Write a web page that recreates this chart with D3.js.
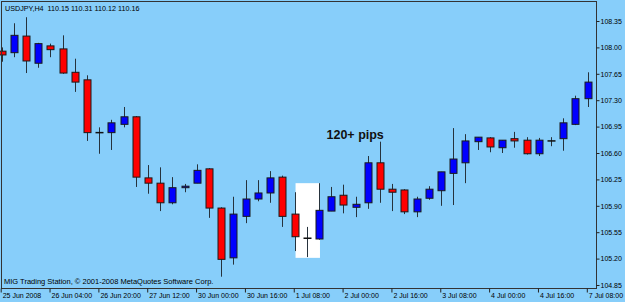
<!DOCTYPE html>
<html>
<head>
<meta charset="utf-8">
<script src="https://cdn.jsdelivr.net/npm/d3@7"></script>
<style>
  body { margin: 0; background: #87cefa; }
  svg { display: block; font-family: "Liberation Sans", Arial, sans-serif; }
</style>
</head>
<body>
<svg id="chart" width="625" height="302"></svg>
<script>
// USDJPY H4 candles (bar 0 = 25 Jun 2008)
const opens = [107.95, 107.93, 108.15, 107.79, 108.02, 107.98, 107.67, 107.57, 106.87, 106.87,
  106.98, 107.08, 106.27, 106.20, 105.94, 106.14, 106.20, 106.39, 105.87, 105.21,
  105.76, 105.99, 106.07, 106.28, 105.79, 105.47, 105.46, 105.83, 106.04, 105.88,
  105.94, 106.47, 106.12, 106.11, 105.82, 106.00, 106.10, 106.33, 106.47, 106.75,
  106.80, 106.67, 106.79, 106.77, 106.59, 106.76, 106.79, 106.98, 107.32];
const highs = [108.00, 108.32, 108.40, 108.06, 108.05, 108.16, 107.85, 107.63, 106.94, 107.04,
  107.21, 107.09, 106.44, 106.41, 106.28, 106.19, 106.45, 106.40, 105.88, 106.02,
  106.24, 106.24, 106.36, 106.30, 106.08, 105.62, 106.20, 106.15, 106.18, 106.02,
  106.56, 106.75, 106.19, 106.12, 106.02, 106.16, 106.35, 106.93, 106.85, 106.81,
  106.81, 106.77, 106.88, 106.81, 106.80, 106.81, 107.06, 107.36, 107.67];
const lows = [107.81, 107.87, 107.66, 107.73, 107.87, 107.65, 107.41, 106.76, 106.59, 106.64,
  106.94, 106.15, 106.06, 105.83, 105.92, 106.08, 106.20, 105.74, 104.96, 105.12,
  105.67, 105.96, 105.94, 105.62, 105.30, 105.22, 105.45, 105.83, 105.80, 105.75,
  105.86, 105.94, 105.83, 105.79, 105.75, 105.98, 105.90, 105.91, 106.20, 106.64,
  106.61, 106.60, 106.67, 106.58, 106.56, 106.69, 106.63, 106.97, 107.21];
const closes = [107.90, 108.16, 107.82, 108.05, 107.97, 107.66, 107.54, 106.87, 106.87, 107.00,
  107.08, 106.28, 106.20, 105.94, 106.14, 106.16, 106.37, 105.87, 105.19, 105.79,
  105.99, 106.07, 106.27, 105.76, 105.49, 105.47, 105.84, 106.02, 105.91, 105.92,
  106.47, 106.12, 106.08, 105.82, 105.99, 106.12, 106.35, 106.52, 106.76, 106.81,
  106.68, 106.77, 106.76, 106.59, 106.77, 106.76, 107.00, 107.32, 107.54];

const yTicks = [108.35, 108.00, 107.65, 107.30, 106.95, 106.60, 106.25, 105.90, 105.55, 105.20, 104.85];
const xTickBars = [0, 4, 8, 12, 16, 20, 24, 28, 32, 36, 40, 44, 48];
const xTickLabels = ["25 Jun 2008", "26 Jun 04:00", "26 Jun 20:00", "27 Jun 12:00", "30 Jun 00:00",
  "30 Jun 16:00", "1 Jul 08:00", "2 Jul 00:00", "2 Jul 16:00", "3 Jul 08:00", "4 Jul 00:00",
  "4 Jul 16:00", "7 Jul 08:00"];

const headerText = "USDJPY,H4  110.15 110.31 110.12 110.16";
const creditText = "MIG Trading Station, \u00a9 2001-2008 MetaQuotes Software Corp.";
const noteText = "120+ pips";
// highlighted box: from bar 24 to bar 26, price range
const boxBars = [24, 26];
const boxPrices = [106.20, 105.21];

const bars = opens.map((o, i) => ({ i: i, o: o, h: highs[i], l: lows[i], c: closes[i] }));

const svg = d3.select("#chart");
const plotRight = 596.5, plotBottom = 288.5;

const x = d3.scaleLinear().domain([0, 48]).range([2.5, 588.6]);
const y = d3.scaleLinear().domain([104.85, 108.35]).range([285, 21]);

// highlight box (behind candles)
svg.append("rect")
  .attr("x", x(boxBars[0]))
  .attr("y", y(boxPrices[0]))
  .attr("width", x(boxBars[1]) - x(boxBars[0]))
  .attr("height", y(boxPrices[1]) - y(boxPrices[0]))
  .attr("fill", "#ffffff");

const plot = svg.append("g");

// wicks
plot.selectAll("line.wick")
  .data(bars)
  .enter()
  .append("line")
  .attr("class", "wick")
  .attr("x1", d => Math.round(x(d.i)) - 0.5)
  .attr("x2", d => Math.round(x(d.i)) - 0.5)
  .attr("y1", d => y(d.h))
  .attr("y2", d => y(d.l))
  .attr("stroke", "#26323c")
  .attr("stroke-width", 1);

// bodies
plot.selectAll("rect.body")
  .data(bars.filter(d => d.o !== d.c))
  .enter()
  .append("rect")
  .attr("class", "body")
  .attr("x", d => Math.round(x(d.i)) - 4)
  .attr("y", d => y(Math.max(d.o, d.c)))
  .attr("width", 7)
  .attr("height", d => Math.max(1, Math.abs(y(d.o) - y(d.c))))
  .attr("fill", d => (d.c < d.o ? "#ff0000" : "#0000ff"))
  .attr("stroke", "#1a1a1a")
  .attr("stroke-width", 1);

// doji bars
plot.selectAll("line.doji")
  .data(bars.filter(d => d.o === d.c))
  .enter()
  .append("line")
  .attr("class", "doji")
  .attr("x1", d => Math.round(x(d.i)) - 4.5)
  .attr("x2", d => Math.round(x(d.i)) + 3.5)
  .attr("y1", d => y(d.o))
  .attr("y2", d => y(d.o))
  .attr("stroke", "#111")
  .attr("stroke-width", 1.5);

// frame
svg.append("rect")
  .attr("x", 1.5)
  .attr("y", 1.5)
  .attr("width", plotRight - 1.5)
  .attr("height", plotBottom - 1.5)
  .attr("fill", "none")
  .attr("stroke", "#333");

// right price axis
const yAxis = svg.append("g")
  .attr("transform", `translate(${plotRight},0)`)
  .call(d3.axisRight(y).tickValues(yTicks).tickFormat(d3.format(".2f")).tickSize(3).tickPadding(1));
yAxis.select(".domain").remove();
yAxis.selectAll("line").attr("stroke", "#222");
yAxis.selectAll("text")
  .attr("font-size", 7)
  .attr("font-family", "Liberation Sans, Arial, sans-serif")
  .attr("fill", "#000");

// bottom time axis (ticks sit just left of the candle centre)
const xAxis = svg.append("g")
  .attr("transform", `translate(-1.8,${plotBottom})`)
  .call(d3.axisBottom(x).tickValues(xTickBars).tickFormat((d, i) => xTickLabels[i]).tickSize(4).tickSizeOuter(0));
xAxis.select(".domain").remove();
xAxis.selectAll("line").attr("stroke", "#222");
xAxis.selectAll("text")
  .attr("text-anchor", "start")
  .attr("x", 1.5)
  .attr("y", 5)
  .attr("font-size", 7)
  .attr("font-family", "Liberation Sans, Arial, sans-serif")
  .attr("fill", "#000");

// texts
svg.append("text")
  .attr("x", 5)
  .attr("y", 11)
  .attr("font-size", 7.2)
  .attr("fill", "#000")
  .style("white-space", "pre")
  .text(headerText);

svg.append("text")
  .attr("x", 4)
  .attr("y", 284)
  .attr("font-size", 7.5)
  .attr("fill", "#000")
  .text(creditText);

svg.append("text")
  .attr("x", 326.5)
  .attr("y", 139)
  .attr("font-size", 12.5)
  .attr("font-weight", "bold")
  .attr("fill", "#111")
  .text(noteText);
</script>
</body>
</html>
